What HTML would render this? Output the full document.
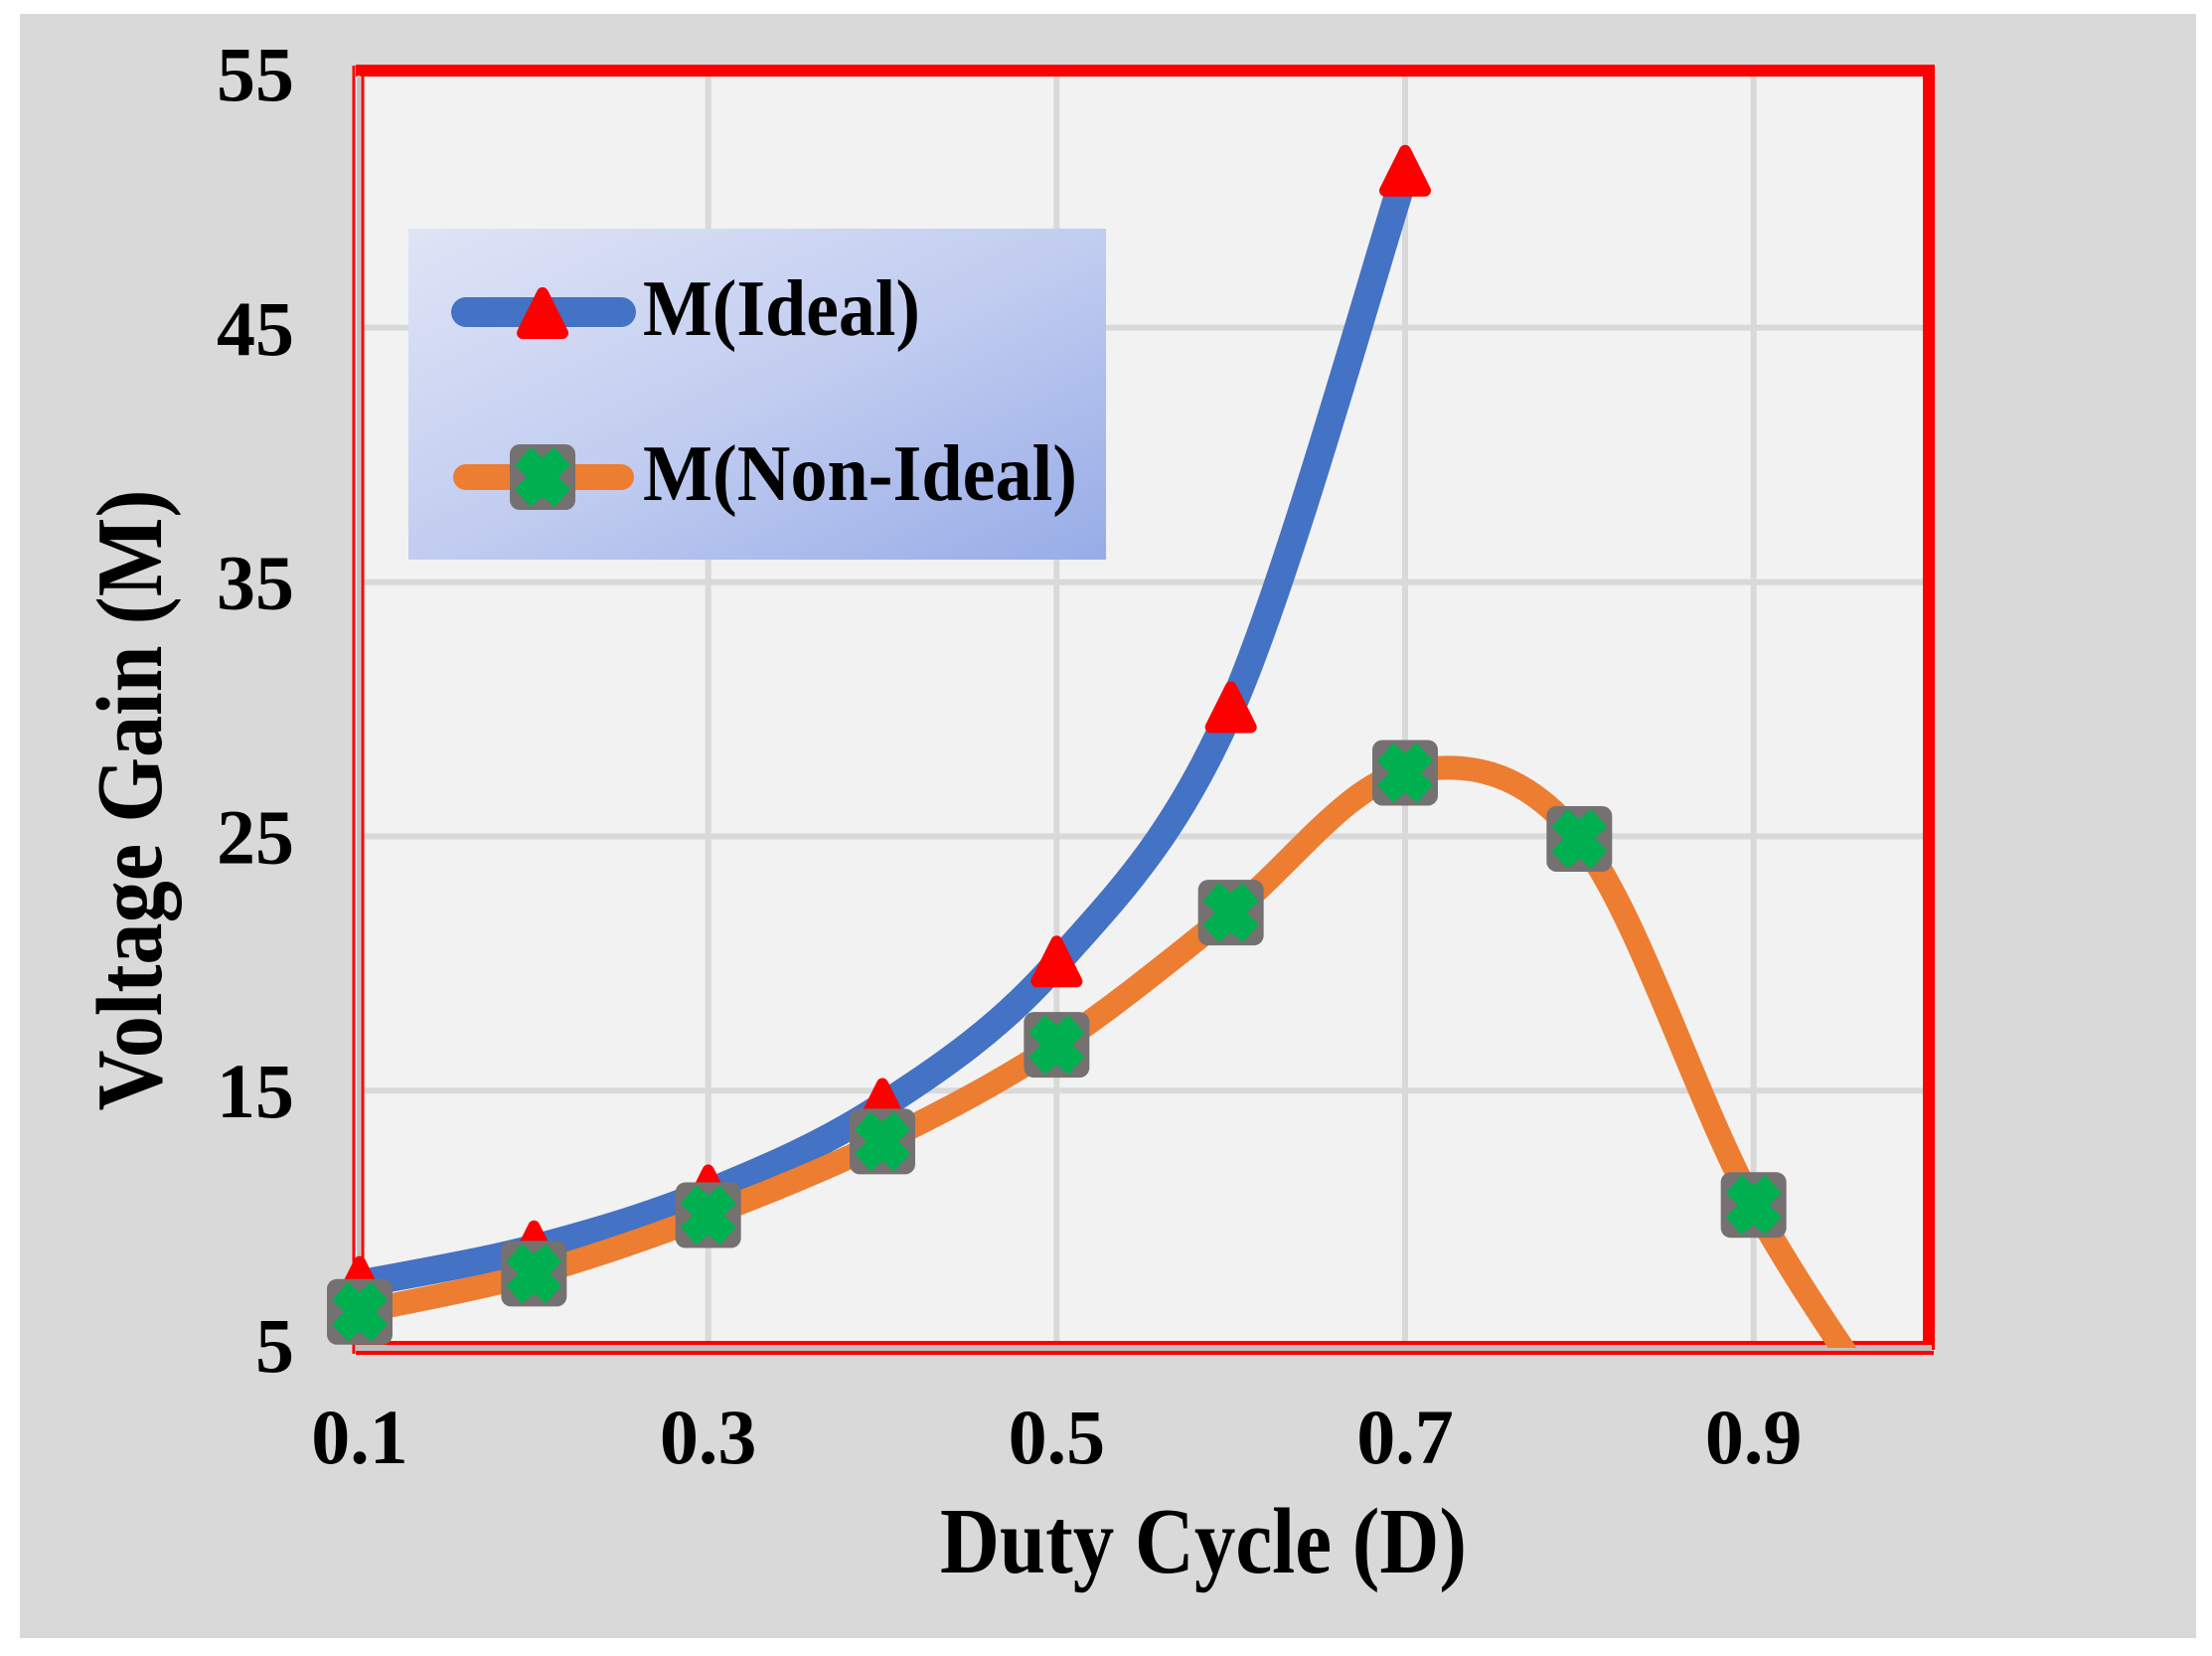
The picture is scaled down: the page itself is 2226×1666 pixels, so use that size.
<!DOCTYPE html>
<html><head><meta charset="utf-8"><style>
html,body{margin:0;padding:0;background:#fff;}
svg{display:block;font-family:"Liberation Serif",serif;font-weight:bold;}
</style></head><body>
<svg id="chart" width="2226" height="1666" viewBox="0 0 2226 1666" xmlns="http://www.w3.org/2000/svg">
<defs>
<linearGradient id="lg" x1="0" y1="0" x2="1" y2="1">
<stop offset="0" stop-color="#dfe4f6"/><stop offset="0.5" stop-color="#c2cdf0"/><stop offset="1" stop-color="#97ace7"/>
</linearGradient>
<clipPath id="plotclip"><rect x="362" y="74" width="1576" height="1282"/></clipPath>
</defs>
<rect x="20" y="14" width="2190" height="1634" fill="#d9d9d9"/>
<g id="plot"></g>
</svg>
<script>
const xCats = [0.1,0.2,0.3,0.4,0.5,0.6,0.7,0.8,0.9,1.0];
const idealX = [0.1,0.2,0.3,0.4,0.5,0.6,0.7];
const idealVals = [7.4,8.8,11.0,14.4,20.0,30.0,51.1];
const nonIdealX = [0.1,0.2,0.3,0.4,0.5,0.6,0.7,0.8,0.9,1.0];
const nonIdealVals = [6.3,7.8,10.1,13.0,16.8,22.0,27.5,24.9,10.5,0.0];
const xTicks = [0.1,0.3,0.5,0.7,0.9];
const xTickLabels = ["0.1","0.3","0.5","0.7","0.9"];
const yTicks = [5,15,25,35,45,55];
const yTickLabels = ["5","15","25","35","45","55"];

const NS="http://www.w3.org/2000/svg";
const X0=362,X1=1940,Y0=1353,Y1=74;
const xs=v=>X0+(v-0.1)/(1.0-0.1)*(X1-X0);
const ys=v=>Y0-(v-5)/(55-5)*(Y0-Y1);
const svg=document.getElementById('chart');
const plot=document.getElementById('plot');
function mk(tag,attrs,parent){const e=document.createElementNS(NS,tag);for(const k in attrs)e.setAttribute(k,attrs[k]);(parent||svg).appendChild(e);return e;}

let bg=mk('rect',{x:356,y:68,width:1588,height:1294,fill:'#f2f2f2'},plot);



yTicks.forEach((t,i)=>{
  const g=mk('line',{x1:X0,x2:X1,y1:ys(t),y2:ys(t),stroke:'#d9d9d9','stroke-width':6},plot);
  
  
  const l=mk('text',{x:296,y:ys(t)+27,'text-anchor':'end','font-size':78,fill:'#000'});
  l.textContent=yTickLabels[i];
  
  
});
xTicks.forEach((t,i)=>{
  const g=mk('line',{x1:xs(t),x2:xs(t),y1:Y1,y2:Y0,stroke:'#d9d9d9','stroke-width':6},plot);
  
  
  const l=mk('text',{x:xs(t),y:1472,'text-anchor':'middle','font-size':78,fill:'#000'});
  l.textContent=xTickLabels[i];
  
  
});

let f1=mk('path',{d:`M1941,1358 L1941,71 L358,71`,fill:'none',stroke:'#ff0000','stroke-width':12},plot);


mk('line',{x1:358,y1:1357,x2:1944,y2:1357,stroke:'#bfbfbf','stroke-width':8},plot);
mk('line',{x1:358,y1:1351,x2:1941,y2:1351,stroke:'#ff0000','stroke-width':4},plot);
mk('line',{x1:358,y1:1361,x2:1946,y2:1361,stroke:'#ff0000','stroke-width':4},plot);
mk('line',{x1:356,y1:66,x2:356,y2:1362,stroke:'#ff0000','stroke-width':3},plot);
mk('line',{x1:361,y1:76,x2:361,y2:1352,stroke:'#bfbfbf','stroke-width':3},plot);
mk('line',{x1:365,y1:76,x2:365,y2:1352,stroke:'#ff0000','stroke-width':3},plot);

function spline(xv,yv){
  const p=xv.map((x,i)=>[xs(x),ys(yv[i])]);
  let d=`M${p[0][0]},${p[0][1]}`;
  for(let i=0;i<p.length-1;i++){
    const p0=p[i-1]||p[i],p1=p[i],p2=p[i+1],p3=p[i+2]||p[i+1];
    const c1=[p1[0]+(p2[0]-p0[0])/6,p1[1]+(p2[1]-p0[1])/6];
    const c2=[p2[0]-(p3[0]-p1[0])/6,p2[1]-(p3[1]-p1[1])/6];
    d+=` C${c1[0]},${c1[1]} ${c2[0]},${c2[1]} ${p2[0]},${p2[1]}`;
  }
  return d;
}
const lineG=mk('g',{'clip-path':'url(#plotclip)'},plot);
let blue=mk('path',{d:spline(idealX,idealVals),fill:'none',stroke:'#4472c4','stroke-width':28},lineG);


let orange=mk('path',{d:spline(nonIdealX,nonIdealVals),fill:'none',stroke:'#ed7d31','stroke-width':24},lineG);



function tri(cx,cy,parent){
  return mk('path',{d:`M${cx},${cy-22} L${cx+20},${cy+18} L${cx-20},${cy+18} Z`,fill:'#ff0000',stroke:'#ff0000','stroke-width':12,'stroke-linejoin':'round'},parent);
}
function sq(cx,cy,parent){
  const g=mk('g',{},parent);
  mk('rect',{x:cx-33,y:cy-33,width:66,height:66,rx:10,fill:'#767171'},g);
  mk('path',{d:`M${cx-28},${cy-12} L${cx-12},${cy-30} L${cx},${cy-20} L${cx+12},${cy-30} L${cx+28},${cy-12} L${cx+16},${cy} L${cx+28},${cy+12} L${cx+12},${cy+30} L${cx},${cy+20} L${cx-12},${cy+30} L${cx-28},${cy+12} L${cx-16},${cy} Z`,fill:'#00b050'},g);
  return g;
}
idealX.forEach((x,i)=>{
  const m=tri(xs(x),ys(idealVals[i]),plot);
  
  
});
nonIdealX.forEach((x,i)=>{
  if(nonIdealVals[i]<5)return;
  const m=sq(xs(x),ys(nonIdealVals[i]),plot);
  
  
});

const lg=mk('g',{});


mk('rect',{x:411,y:230,width:702,height:333,fill:'url(#lg)'},lg);
const e1=mk('g',{},lg);


mk('line',{x1:469,y1:314,x2:625,y2:314,stroke:'#4472c4','stroke-width':30,'stroke-linecap':'round'},e1);
tri(546,317,e1);
const t1=mk('text',{x:647,y:337,'font-size':80,fill:'#000',textLength:279,lengthAdjust:'spacingAndGlyphs'},e1);
t1.textContent='M(Ideal)';
const e2=mk('g',{},lg);


mk('line',{x1:469,y1:480,x2:625,y2:480,stroke:'#ed7d31','stroke-width':26,'stroke-linecap':'round'},e2);
sq(546,480,e2);
const t2=mk('text',{x:647,y:503,'font-size':80,fill:'#000',textLength:437,lengthAdjust:'spacingAndGlyphs'},e2);
t2.textContent='M(Non-Ideal)';

const xt=mk('text',{x:1211,y:1582,'text-anchor':'middle','font-size':94,fill:'#000',textLength:530,lengthAdjust:'spacingAndGlyphs'});
xt.textContent='Duty Cycle (D)';


const yt=mk('text',{x:0,y:0,'text-anchor':'middle','font-size':94,fill:'#000',textLength:625,lengthAdjust:'spacingAndGlyphs',transform:'translate(162,805) rotate(-90)'});
yt.textContent='Voltage Gain (M)';


</script>
</body></html>
